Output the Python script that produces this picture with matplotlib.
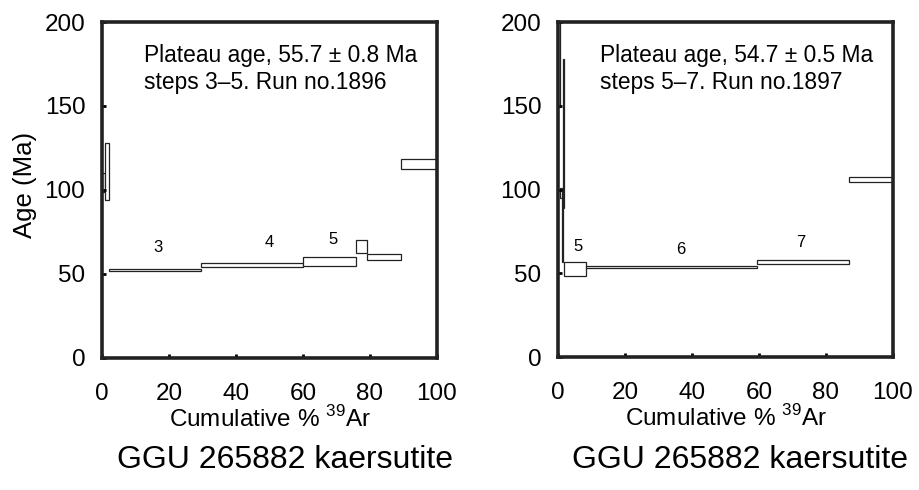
import matplotlib.pyplot as plt
from matplotlib.patches import Rectangle

plt.rcParams['font.family'] = ['Liberation Sans', 'DejaVu Sans']
plt.rcParams['mathtext.fontset'] = 'custom'
plt.rcParams['mathtext.rm'] = 'Liberation Sans'

# run 1896: cumulative % 39Ar at the end of each step, age and error (Ma)
left_cum = [0.9, 2.2, 29.5, 59.9, 75.8, 79.2, 89.2, 100.0]
left_age = [104.5, 111.0, 52.4, 55.35, 57.55, 66.45, 60.1, 115.3]
left_err = [5.5, 17.0, 0.8, 1.15, 2.55, 3.95, 1.6, 3.0]
left_labels = {3: (16.7, 66), 4: (50, 68.6), 5: (69, 70.8)}

# run 1897
right_cum = [0.7, 1.1, 1.5, 1.9, 8.5, 59.3, 87.0, 100.0]
right_age = [179.5, 98.0, 76.0, 133.5, 52.65, 53.7, 56.8, 105.8]
right_err = [30.5, 3.0, 19.0, 44.5, 4.25, 0.7, 1.0, 1.5]
right_labels = {5: (6, 66), 6: (36.6, 64.2), 7: (72.5, 68.5)}

sample = "GGU 265882 kaersutite"

fig = plt.figure(figsize=(9.19, 4.90), dpi=100)
ax1 = fig.add_axes([0.111, 0.2694, 0.3645, 0.6857])
ax2 = fig.add_axes([0.6072, 0.2714, 0.3645, 0.6837])


def spectrum(ax, cum, age, err, labels, line1, line2):
    start = 0
    for c, a, e in zip(cum, age, err):
        ax.add_patch(Rectangle((start, a - e), c - start, 2 * e,
                               facecolor='white', edgecolor='#222222', lw=0.9))
        start = c
    for n, (x, y) in labels.items():
        ax.text(x, y, str(n), fontsize=12, ha='center', va='center')
    ax.text(12.5, 180, line1, fontsize=16.4, va='center')
    ax.text(12.5, 164, line2, fontsize=16.4, va='center')
    ax.set_xlim(0, 100)
    ax.set_ylim(0, 200)
    ax.set_xticks([0, 20, 40, 60, 80, 100])
    ax.set_yticks([0, 50, 100, 150, 200])
    ax.tick_params(direction='in', length=3, width=2, labelsize=17.5)
    ax.tick_params(axis='x', pad=18)
    ax.tick_params(axis='y', pad=12)
    for s in ax.spines.values():
        s.set_linewidth(2.6)
        s.set_color('#222222')
    ax.set_xlabel('Cumulative % $^{39}$Ar', fontsize=17.5, labelpad=1)


spectrum(ax1, left_cum, left_age, left_err, left_labels,
         'Plateau age, 55.7 ± 0.8 Ma', 'steps 3–5. Run no.1896')
spectrum(ax2, right_cum, right_age, right_err, right_labels,
         'Plateau age, 54.7 ± 0.5 Ma', 'steps 5–7. Run no.1897')

fig.text(0.027, 0.622, 'Age (Ma)', rotation=90, fontsize=18.5, ha='center', va='center')
fig.text(0.3096, 0.062, sample, fontsize=23, ha='center', va='center')
fig.text(0.805, 0.062, sample, fontsize=23, ha='center', va='center')

fig.savefig('out.png', dpi=100)
